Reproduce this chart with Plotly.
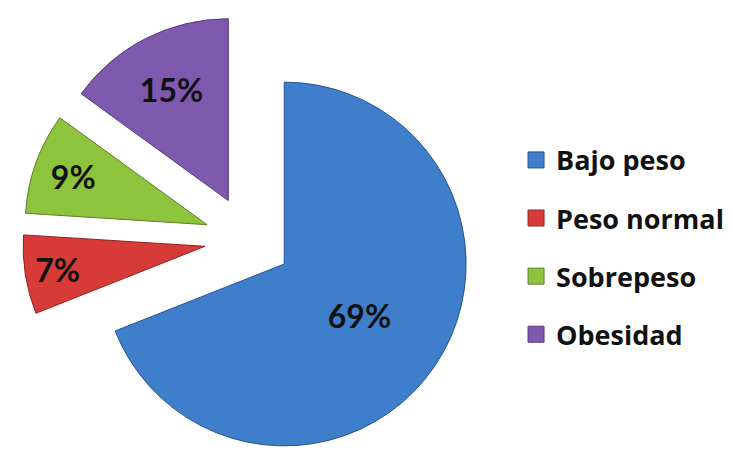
import plotly.graph_objects as go

# Distribución del estado nutricional
categorias = ["Bajo peso", "Peso normal", "Sobrepeso", "Obesidad"]
porcentajes = [69, 7, 9, 15]
colores = ["#3e7ecb", "#d63b37", "#8dc33d", "#7e59ae"]
bordes = ["#25528f", "#8e2422", "#5e7e26", "#533a78"]

fig = go.Figure()

fig.add_trace(
    go.Pie(
        labels=categorias,
        values=porcentajes,
        sort=False,
        direction="clockwise",
        rotation=0,
        pull=[0.24] * len(porcentajes),
        marker=dict(colors=colores, line=dict(color=bordes, width=1)),
        texttemplate="%{value}%",
        textposition="inside",
        insidetextorientation="horizontal",
        insidetextfont=dict(family="Lato", size=32, color="#111111", weight="bold"),
        domain=dict(x=[0.0, 0.677], y=[0, 0.97]),
        hoverinfo="label+percent",
        showlegend=False,
    )
)

# Leyenda con marcadores cuadrados, una entrada por categoría
for nombre, color, borde in zip(categorias, colores, bordes):
    fig.add_trace(
        go.Scatter(
            x=[None],
            y=[None],
            mode="markers",
            name=nombre,
            legendgroup=nombre,
            marker=dict(symbol="square", size=16, color=color,
                        line=dict(color=borde, width=1)),
            hoverinfo="skip",
        )
    )

fig.update_layout(
    width=733,
    height=465,
    margin=dict(l=0, r=0, t=0, b=0),
    paper_bgcolor="white",
    plot_bgcolor="white",
    uniformtext=dict(minsize=30, mode="show"),
    xaxis=dict(visible=False),
    yaxis=dict(visible=False),
    legend=dict(
        x=0.704,
        y=0.468,
        xanchor="left",
        yanchor="middle",
        traceorder="grouped",
        tracegroupgap=20,
        font=dict(family="Open Sans", size=27, color="#111111", weight="bold"),
        bgcolor="rgba(0,0,0,0)",
    ),
)

fig.write_html("out.html")
